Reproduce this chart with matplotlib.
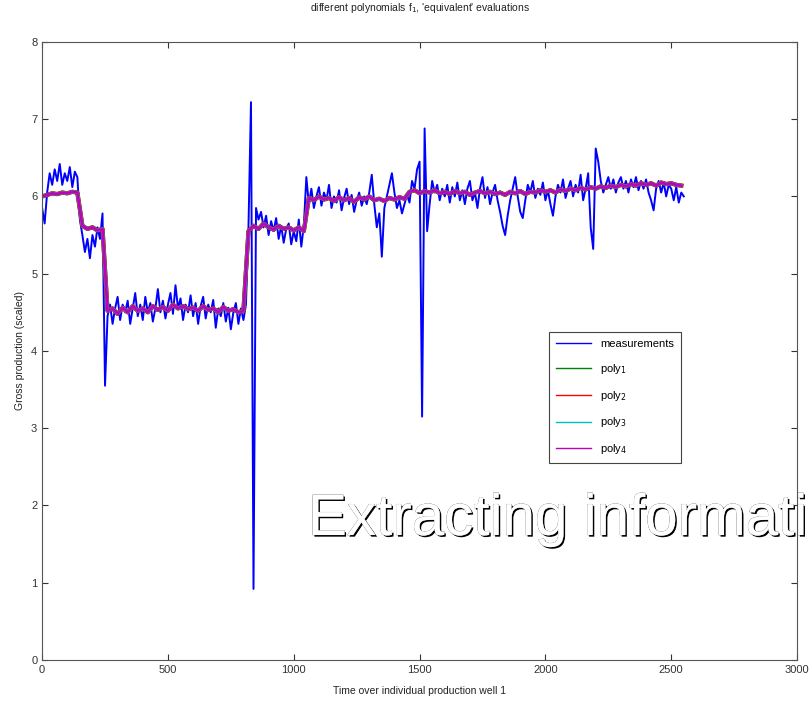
import numpy as np
import matplotlib
matplotlib.use('Agg')
import matplotlib.pyplot as plt
import matplotlib.patheffects as pe

plt.rcParams['font.family'] = ['Liberation Sans', 'DejaVu Sans']

# measurements, one sample every 10 time units starting at 0
meas_step = 10
meas = [
    5.85, 5.65, 6.05, 6.30, 6.15, 6.35, 6.20, 6.42, 6.15, 6.30,
    6.20, 6.38, 6.12, 6.32, 6.25, 5.70, 5.50, 5.28, 5.45, 5.20,
    5.50, 5.35, 5.60, 5.45, 5.78, 3.55, 4.45, 4.60, 4.35, 4.55,
    4.70, 4.40, 4.60, 4.50, 4.65, 4.35, 4.55, 4.75, 4.45, 4.60,
    4.40, 4.70, 4.50, 4.62, 4.38, 4.55, 4.80, 4.50, 4.65, 4.42,
    4.60, 4.75, 4.48, 4.85, 4.55, 4.68, 4.40, 4.60, 4.50, 4.72,
    4.45, 4.62, 4.35, 4.58, 4.70, 4.42, 4.60, 4.50, 4.66, 4.30,
    4.55, 4.45, 4.62, 4.38, 4.56, 4.28, 4.50, 4.62, 4.35, 4.55,
    4.40, 4.60, 5.60, 7.22, 0.92, 5.85, 5.70, 5.80, 5.60, 5.75,
    5.50, 5.68, 5.55, 5.72, 5.45, 5.62, 5.40, 5.58, 5.65, 5.38,
    5.55, 5.42, 5.70, 5.35, 5.62, 6.25, 5.90, 6.10, 5.85, 6.00,
    6.12, 5.88, 6.05, 5.95, 6.15, 5.85, 6.00, 5.92, 6.08, 5.82,
    5.98, 6.10, 5.90, 6.02, 5.80, 5.95, 6.05, 5.88, 6.00, 5.90,
    6.05, 6.28, 5.90, 5.60, 5.78, 5.22, 5.85, 6.00, 6.15, 6.30,
    6.05, 5.85, 5.95, 5.78, 5.90, 6.02, 5.92, 6.20, 6.10, 6.35,
    6.45, 3.15, 6.88, 5.55, 5.90, 6.20, 6.05, 6.15, 5.95, 6.10,
    6.00, 6.15, 5.92, 6.12, 6.00, 6.18, 5.95, 6.08, 5.90, 6.10,
    6.20, 5.95, 6.05, 5.85, 6.10, 6.25, 5.98, 6.12, 5.90, 6.05,
    6.15, 5.95, 5.80, 5.62, 5.50, 5.75, 5.95, 6.10, 6.25, 6.00,
    5.80, 5.72, 5.95, 6.15, 6.05, 6.20, 5.98, 6.10, 6.02, 6.18,
    5.95, 6.08, 5.90, 5.75, 6.00, 6.15, 6.05, 6.22, 5.98, 6.10,
    6.20, 6.00, 6.15, 6.05, 6.28, 5.95, 6.10, 6.30, 5.60, 5.32,
    6.62, 6.45, 6.20, 6.05, 6.15, 6.25, 6.10, 6.22, 6.05, 6.18,
    6.25, 6.10, 6.20, 6.05, 6.22, 6.12, 6.25, 6.08, 6.20, 6.10,
    6.22, 6.05, 5.95, 5.82, 6.10, 6.20, 6.05, 6.18, 6.00, 6.15,
    6.10, 5.95, 6.12, 5.92, 6.05, 6.00,
]

# polynomial evaluations (all four practically identical), every 20 time units
poly_step = 20
poly = [
    6.00, 6.02, 6.04, 6.03, 6.05, 6.04, 6.06, 6.05, 5.62, 5.58,
    5.60, 5.56, 5.58, 4.52, 4.55, 4.48, 4.56, 4.50, 4.58, 4.52,
    4.55, 4.50, 4.58, 4.53, 4.57, 4.52, 4.60, 4.55, 4.58, 4.54,
    4.56, 4.52, 4.58, 4.53, 4.55, 4.50, 4.57, 4.52, 4.54, 4.50,
    4.52, 5.55, 5.62, 5.58, 5.65, 5.60, 5.57, 5.62, 5.58, 5.60,
    5.56, 5.60, 5.55, 5.98, 5.95, 6.00, 5.96, 5.98, 5.94, 5.99,
    5.95, 5.98, 5.93, 5.99, 5.96, 6.00, 5.95, 5.97, 5.94, 5.98,
    5.96, 5.99, 5.97, 6.06, 6.08, 6.04, 6.07, 6.05, 6.08, 6.04,
    6.06, 6.03, 6.07, 6.04, 6.06, 6.02, 6.05, 6.07, 6.04, 6.06,
    6.03, 6.05, 6.02, 6.06, 6.04, 6.07, 6.03, 6.06, 6.05, 6.08,
    6.06, 6.08, 6.05, 6.09, 6.07, 6.10, 6.08, 6.11, 6.09, 6.12,
    6.10, 6.13, 6.11, 6.14, 6.12, 6.15, 6.13, 6.16, 6.14, 6.17,
    6.15, 6.17, 6.14, 6.18, 6.16, 6.17, 6.15, 6.14,
]

labels = ['measurements', 'poly$_1$', 'poly$_2$', 'poly$_3$', 'poly$_4$']
colors = ['#0000ff', '#008000', '#ff0000', '#00bfbf', '#bf00bf']

t_meas = np.arange(len(meas)) * meas_step
t_poly = np.arange(len(poly)) * poly_step

fig = plt.figure(figsize=(8.1, 7.04), dpi=100)
ax = fig.add_axes([0.052, 0.0625, 0.932, 0.878])

ax.plot(t_meas, meas, color=colors[0], lw=1.4, label=labels[0])
widths = [3.0, 3.0, 2.4, 2.0]
for k in range(4):
    ax.plot(t_poly, poly, color=colors[k + 1], lw=widths[k], label=labels[k + 1])

ax.set_xlim(0, 3000)
ax.set_ylim(0, 8)
ax.set_xticks(np.arange(0, 3001, 500))
ax.set_yticks(np.arange(0, 9, 1))
ax.tick_params(direction='in', top=True, right=True, labelsize=8, length=4, colors='#333333')
for s in ax.spines.values():
    s.set_color('#555555')
    s.set_linewidth(0.8)

ax.set_title("different polynomials f$_1$, 'equivalent' evaluations", fontsize=7.5, color='#222222', pad=22)
ax.set_xlabel('Time over individual production well 1', fontsize=7.5, color='#222222', labelpad=8)
ax.set_ylabel('Gross production (scaled)', fontsize=7.5, color='#222222', labelpad=4)

leg = ax.legend(loc='upper left', bbox_to_anchor=(0.664, 0.539), fontsize=8,
                labelspacing=1.15, handlelength=3.2, fancybox=False, framealpha=1,
                borderpad=0.6)
leg.get_frame().set_edgecolor('#444444')
leg.get_frame().set_linewidth(0.8)
for line in leg.get_lines():
    line.set_linewidth(1.0)

fig.text(308 / 810, 1 - 535 / 704, 'Extracting informati', fontsize=42, color='white',
         ha='left', va='baseline',
         path_effects=[pe.withSimplePatchShadow(offset=(1.2, -1.2), shadow_rgbFace='black', alpha=1.0),
                       pe.withStroke(linewidth=0.3, foreground='#444444')])

fig.savefig('out.png', dpi=100)
